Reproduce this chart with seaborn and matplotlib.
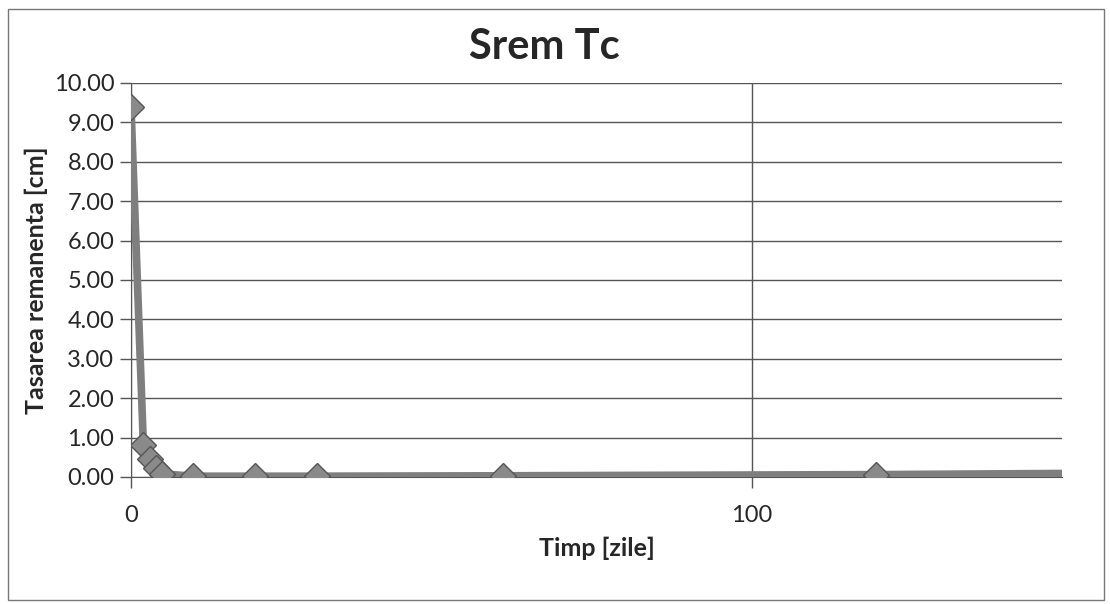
import matplotlib
matplotlib.use("Agg")
import matplotlib.pyplot as plt
import seaborn as sns
import pandas as pd

# date
timp = [0, 2, 3, 4, 5, 10, 20, 30, 60, 120, 365]
srem = [9.40, 0.80, 0.45, 0.22, 0.08, 0.02, 0.02, 0.02, 0.03, 0.06, 0.30]
yticks = [0, 1, 2, 3, 4, 5, 6, 7, 8, 9, 10]
xticks = [0, 100]

df = pd.DataFrame({"Timp": timp, "Srem": srem})

sns.set_style("white")
plt.rcParams["font.family"] = ["Lato", "DejaVu Sans"]

fig = plt.figure(figsize=(11.1, 6.04), dpi=100)
ax = fig.add_axes([0.118, 0.2103, 0.839, 0.6523])

sns.lineplot(data=df, x="Timp", y="Srem", ax=ax, color="#7f7f7f", linewidth=5.5,
             marker="D", markersize=13, markerfacecolor="#8a8a8a",
             markeredgecolor="#555555", markeredgewidth=1,
             markevery=list(range(len(timp) - 1)), zorder=3)

ax.set_xlim(0, 150)
ax.set_ylim(0, 10)
ax.set_yticks(yticks)
ax.set_yticklabels([f"{v:.2f}" for v in yticks])
ax.set_xticks(xticks)
ax.set_xticklabels([str(v) for v in xticks])
ax.grid(True, color="#555555", linewidth=1)
ax.tick_params(axis="both", labelsize=17, length=8, width=1, color="#555555",
               direction="out")
ax.tick_params(axis="y", left=True, pad=4)
ax.tick_params(axis="x", bottom=True, pad=12)

for s in ["top", "right"]:
    ax.spines[s].set_visible(False)
ax.spines["left"].set_color("#555555")
ax.spines["bottom"].set_color("#555555")

fig.text(0.49, 0.922, "Srem Tc", fontsize=30, fontweight="bold",
         ha="center", va="center")
ax.set_xlabel("Timp [zile]", fontsize=18, fontweight="bold", labelpad=8)
ax.set_ylabel("Tasarea remanenta [cm]", fontsize=18, fontweight="bold", labelpad=4)

# chenarul graficului
fig.patches.append(plt.Rectangle((0.007, 0.007), 0.988, 0.978, transform=fig.transFigure,
                                 fill=False, edgecolor="#777777", linewidth=1))

fig.savefig("out.png", dpi=100)
